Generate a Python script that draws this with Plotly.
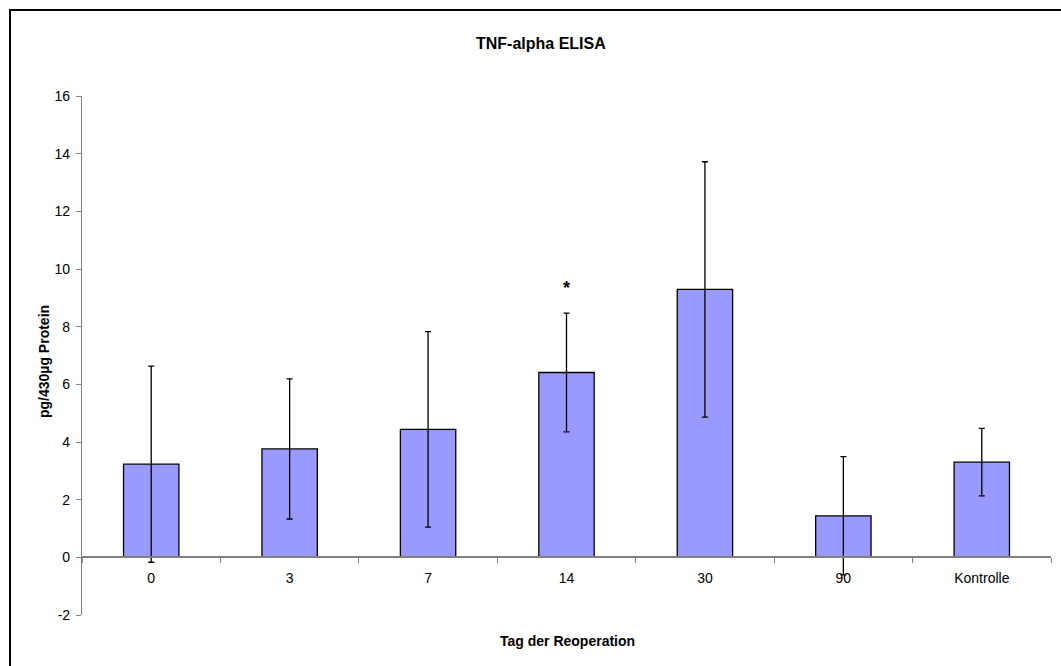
import plotly.graph_objects as go

categories = ["0", "3", "7", "14", "30", "90", "Kontrolle"]
means = [3.23, 3.76, 4.44, 6.41, 9.29, 1.44, 3.30]
errors = [3.40, 2.43, 3.39, 2.06, 4.43, 2.05, 1.17]
y_ticks = [-2, 0, 2, 4, 6, 8, 10, 12, 14, 16]
star_category = "14"
star_y = 9.35

W, H = 1061, 666
L, R, T, B = 82, 10, 96, 51
ymin, ymax = -2, 16
PW, PH = W - L - R, H - T - B

fig = go.Figure()
fig.add_trace(go.Bar(
    x=categories, y=means,
    marker=dict(color="#9999FF", line=dict(color="black", width=1.3)),
    width=0.4,
    error_y=dict(type="data", array=errors, visible=True, color="black",
                 thickness=1.3, width=3),
    showlegend=False,
))

font = "Liberation Sans, Arial, sans-serif"
fig.update_layout(
    width=W, height=H,
    margin=dict(l=L, r=R, t=T, b=B),
    paper_bgcolor="white", plot_bgcolor="white",
    font=dict(family=font, size=14, color="black"),
    xaxis=dict(
        type="category", anchor="free", position=(0 - ymin) / (ymax - ymin),
        showline=True, linecolor="#808080", linewidth=1.5,
        ticks="outside", tickson="boundaries", ticklen=5, tickcolor="#808080",
        showgrid=False, zeroline=False, tickfont=dict(size=14, family=font),
        ticklabelstandoff=8,
        range=[-0.5, 6.5],
    ),
    yaxis=dict(
        range=[ymin, ymax], tickvals=y_ticks, ticktext=[str(v) for v in y_ticks],
        showline=True, linecolor="#808080",
        linewidth=1.2, ticks="outside", ticklen=5, tickcolor="#808080",
        showgrid=False, zeroline=False, tickfont=dict(size=14, family=font),
        ticklabelstandoff=3,
    ),
    annotations=[
        dict(text="<b>TNF-alpha ELISA</b>", xref="paper", yref="paper",
             x=(541 - L) / PW, y=1 + (96 - 44) / PH,
             showarrow=False, font=dict(size=16, family=font), yanchor="middle"),
        dict(text="<b>Tag der Reoperation</b>", xref="paper", yref="paper",
             x=(567 - L) / PW, y=-(641 - 615) / PH,
             showarrow=False, font=dict(size=14, family=font), yanchor="middle"),
        dict(text="<b>pg/430µg Protein</b>", xref="paper", yref="paper",
             x=-(L - 44) / PW, y=(615 - 362) / PH,
             showarrow=False, font=dict(size=14, family=font), textangle=-90,
             xanchor="center", yanchor="middle"),
        dict(text="<b>*</b>", x=categories.index(star_category), y=star_y,
             xref="x", yref="y",
             showarrow=False, font=dict(size=18, family=font), yanchor="middle"),
    ],
    shapes=[
        dict(type="rect", xref="paper", yref="paper",
             x0=-(L - 10) / PW, x1=1 + 30 / PW,
             y0=-(B + 30) / PH, y1=1 + (T - 10) / PH,
             line=dict(color="black", width=2), fillcolor="rgba(0,0,0,0)",
             layer="below"),
    ],
)

fig.write_html("out.html")
